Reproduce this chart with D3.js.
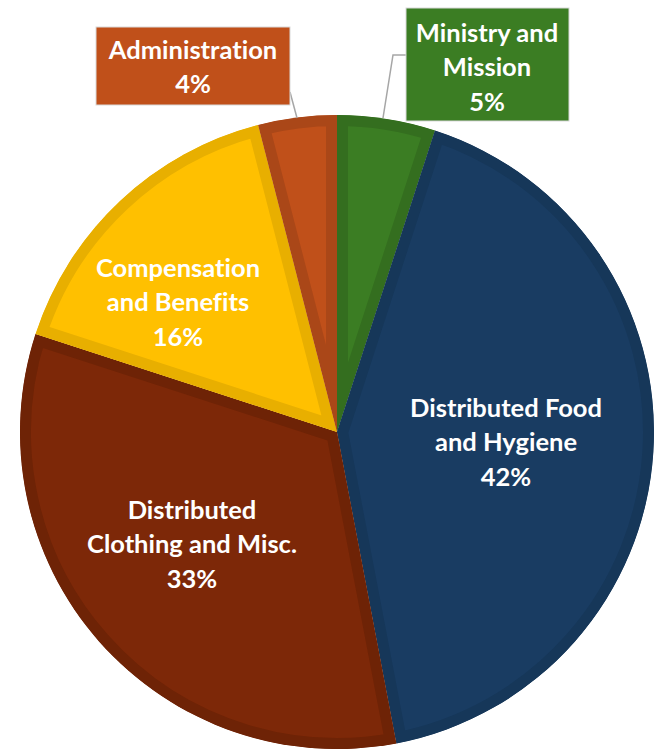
<!DOCTYPE html>
<html>
<head>
<meta charset="utf-8">
<script src="https://cdn.jsdelivr.net/npm/d3@7"></script>
<style>
  body { margin: 0; background: #fff; }
  svg { display: block; }
  .lbl { font-family: Lato, "Noto Sans", sans-serif; font-weight: bold; fill: #fff; font-variant-ligatures: none; }
</style>
</head>
<body>
<svg width="662" height="750"></svg>
<script>
const categories = ['Ministry and Mission', 'Distributed Food and Hygiene', 'Distributed Clothing and Misc.', 'Compensation and Benefits', 'Administration'];
const values = [5, 42, 33, 16, 4];
const labelLines = [
    ['Ministry and', 'Mission', '5%'],
    ['Distributed Food', 'and Hygiene', '42%'],
    ['Distributed', 'Clothing and Misc.', '33%'],
    ['Compensation', 'and Benefits', '16%'],
    ['Administration', '4%']
];
const fills = ['#3b7d23', '#193c62', '#7d2808', '#ffc000', '#c0501a'];
const borders = ['#346e1f', '#163759', '#6e2306', '#e8af00', '#aa4718'];

const svg = d3.select('svg');
const cx = 337, cy = 432, radius = 317;

const data = categories.map((c, i) => ({ name: c, value: values[i], lines: labelLines[i], i }));

const pie = d3.pie().sort(null).value(d => d.value);
const arc = d3.arc().innerRadius(0).outerRadius(radius);
const arcs = pie(data);

const g = svg.append('g').attr('transform', `translate(${cx},${cy})`);
const defs = svg.append('defs');

defs.selectAll('clipPath').data(arcs)
    .enter().append('clipPath')
    .attr('id', d => 'clip' + d.data.i)
    .append('path')
    .attr('d', arc);

g.selectAll('path.slice').data(arcs)
    .enter().append('path')
    .attr('class', 'slice')
    .attr('d', arc)
    .attr('fill', d => fills[d.data.i])
    .attr('stroke', d => borders[d.data.i])
    .attr('stroke-width', 22)
    .attr('stroke-linejoin', 'miter')
    .attr('clip-path', d => `url(#clip${d.data.i})`);

// label positions relative to pie center (inside labels and callout boxes)
const labelPos = [
    { x: 150, y: -399, box: [69, -424, 163, 113] },
    { x: 169, y: -24 },
    { x: -145, y: 78 },
    { x: -159, y: -164 },
    { x: -144, y: -382, box: [-241, -405, 194, 78] }
];
const lineH = 34.5;

// leader lines for the callouts
const leaders = [
    [[69, -377], [56, -377], [46, -314]],
    null, null, null,
    [[-47, -340], [-40, -314]]
];
g.selectAll('path.leader').data(leaders.filter(l => l))
    .enter().append('path')
    .attr('class', 'leader')
    .attr('d', d3.line())
    .attr('fill', 'none')
    .attr('stroke', '#a6a6a6')
    .attr('stroke-width', 1.5);

const labels = g.selectAll('g.label').data(arcs)
    .enter().append('g')
    .attr('class', 'label');

labels.filter(d => labelPos[d.data.i].box)
    .append('rect')
    .attr('x', d => labelPos[d.data.i].box[0])
    .attr('y', d => labelPos[d.data.i].box[1])
    .attr('width', d => labelPos[d.data.i].box[2])
    .attr('height', d => labelPos[d.data.i].box[3])
    .attr('fill', d => fills[d.data.i])
    .attr('stroke', '#d9d9d9')
    .attr('stroke-width', 1);

labels.each(function (d) {
    const p = labelPos[d.data.i];
    const t = d3.select(this).append('text')
        .attr('class', 'lbl')
        .attr('text-anchor', 'middle')
        .attr('font-size', 25.5);
    d.data.lines.forEach((line, k) => {
        t.append('tspan')
            .attr('x', p.x)
            .attr('y', p.y + k * lineH)
            .attr('dy', '0.35em')
            .text(line);
    });
});
</script>
</body>
</html>
